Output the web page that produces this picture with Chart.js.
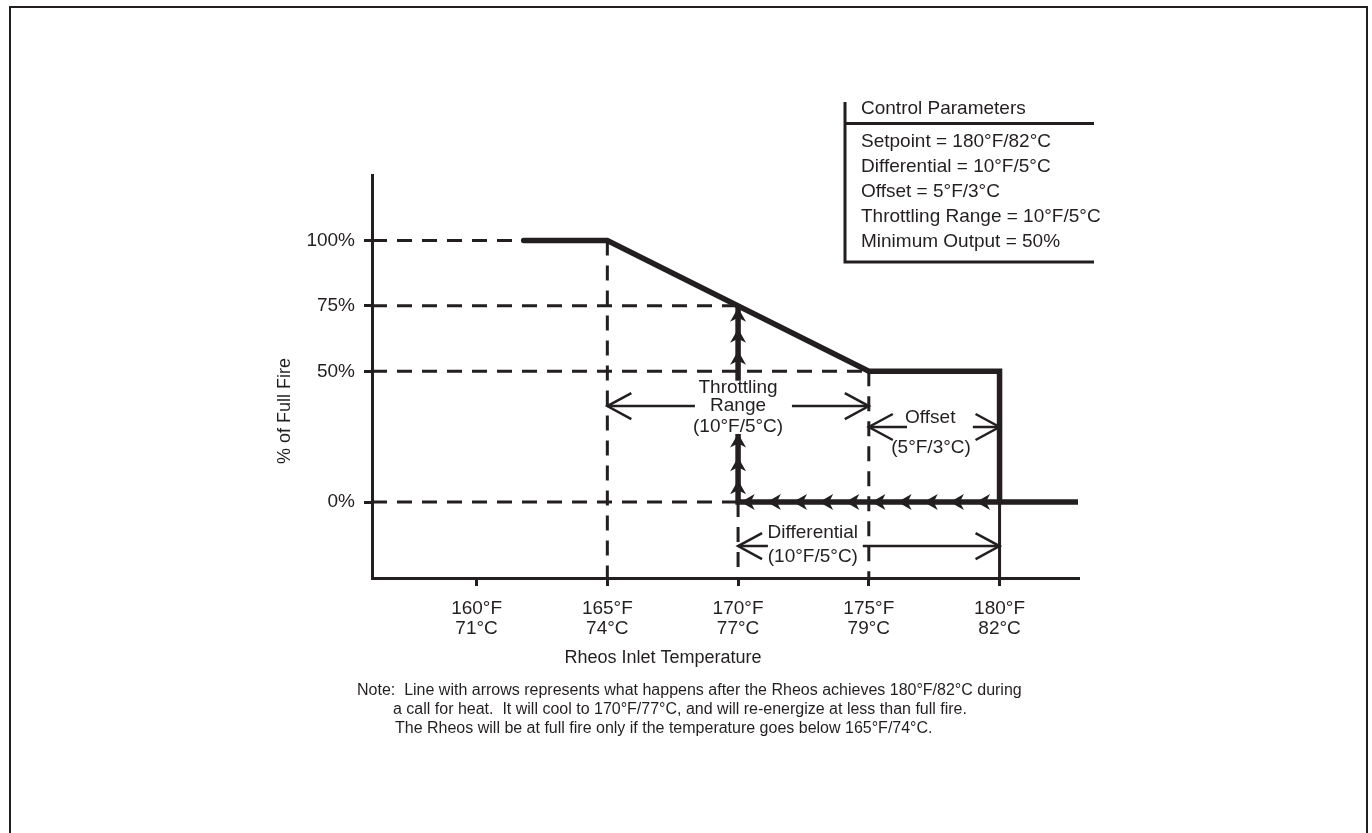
<!DOCTYPE html>
<html>
<head>
<meta charset="utf-8">
<script src="https://cdn.jsdelivr.net/npm/chart.js@4.4.1/dist/chart.umd.min.js"></script>
<style>
  html, body { margin: 0; padding: 0; background: #fff; }
  #wrap { position: relative; width: 1372px; height: 833px; }
</style>
</head>
<body>
<div id="wrap"><canvas id="chart"></canvas></div>
<script>
const INK = '#231f20';
const FONT = '"Liberation Sans", Arial, Helvetica, sans-serif';

// axis ticks
const tempTicksF = [160, 165, 170, 175, 180];
const tempTicksC = ['71°C', '74°C', '77°C', '79°C', '82°C'];
const fireTicks = [0, 50, 75, 100];

// firing rate while heating (°F -> % of full fire)
const heatTemp = [161.8, 165, 175, 180, 180];
const heatFire = [100, 100, 50, 50, 0];

// after the setpoint: cools along 0%, re-energizes at 170°F
const coolTemp = [183, 170, 170];
const coolFire = [0, 0, 26];
const riseTemp = [170, 170];
const riseFire = [46.4, 75];

// arrowhead tips along that path
const coolArrowTemp = [170.1, 171.1, 172.1, 173.1, 174.1, 175.1, 176.1, 177.1, 178.1, 179.1];
const riseArrowFire = [8.4, 17.1, 26.2, 57.8, 66.2, 74.3];

// dashed reference lines
const refLevel = [100, 75, 50, 0];
const refLevelEnd = [161.8, 170, 175, 170];
const refTemp = [165, 170, 175];
const refTempTop = [100, 0, 50];

// dimension arrows (°F span, % height, text gap) and their labels
const dims = [
  { from: 165, to: 175, at: 36.7, gap: [168.35, 172.06],
    labels: [['Throttling', 170, 43.6], ['Range', 170, 36.7], ['(10°F/5°C)', 170, 28.7]] },
  { from: 175, to: 180, at: 28.7, gap: [176.46, 178.98],
    labels: [['Offset', 177.35, 32.1], ['(5°F/3°C)', 177.38, 20.7]] },
  { from: 170, to: 180, at: -16.8, gap: [171.14, 174.77],
    labels: [['Differential', 172.86, -11.8], ['(10°F/5°C)', 172.86, -21.0]] }
];

const paramTitle = 'Control Parameters';
const paramRows = [
  'Setpoint = 180°F/82°C',
  'Differential = 10°F/5°C',
  'Offset = 5°F/3°C',
  'Throttling Range = 10°F/5°C',
  'Minimum Output = 50%'
];
const noteLines = [
  'Note:  Line with arrows represents what happens after the Rheos achieves 180°F/82°C during',
  'a call for heat.  It will cool to 170°F/77°C, and will re-energize at less than full fire.',
  'The Rheos will be at full fire only if the temperature goes below 165°F/74°C.'
];

const X_MIN = 156, X_MAX = 183, Y_MIN = -29, Y_MAX = 125;

const pts = (xs, ys) => xs.map((x, i) => ({ x, y: ys[i] }));
const base = { borderColor: INK, pointRadius: 0, fill: false, tension: 0 };

const datasets = [
  { ...base, data: pts(heatTemp, heatFire), borderWidth: 5.5, borderCapStyle: 'round', borderJoinStyle: 'miter' },
  { ...base, data: pts(coolTemp, coolFire), borderWidth: 5.5, borderJoinStyle: 'miter' },
  { ...base, data: pts(riseTemp, riseFire), borderWidth: 5.5 },
  ...refLevel.map((lv, i) => ({ ...base, data: [{ x: X_MIN, y: lv }, { x: refLevelEnd[i], y: lv }], borderWidth: 3, borderDash: [15, 10] })),
  ...refTemp.map((t, i) => ({ ...base, data: [{ x: t, y: refTempTop[i] }, { x: t, y: Y_MIN }], borderWidth: 3, borderDash: [15, 10] })),
  { ...base, data: [{ x: 180, y: 0 }, { x: 180, y: Y_MIN }], borderWidth: 3 }
];

function solidHead(ctx, px, py, angle) {
  ctx.save();
  ctx.translate(px, py);
  ctx.rotate(angle);
  ctx.beginPath();
  ctx.moveTo(0, 0);
  ctx.lineTo(-14, -8);
  ctx.lineTo(-10, 0);
  ctx.lineTo(-14, 8);
  ctx.closePath();
  ctx.fill();
  ctx.restore();
}

function openHead(ctx, px, py, dir) {
  ctx.beginPath();
  ctx.moveTo(px - dir * 24, py - 13);
  ctx.lineTo(px, py);
  ctx.lineTo(px - dir * 24, py + 13);
  ctx.stroke();
}

const drawings = {
  id: 'drawings',
  afterDraw(chart) {
    const { ctx, scales: { x, y } } = chart;
    ctx.save();
    ctx.fillStyle = INK;
    ctx.strokeStyle = INK;

    // arrowheads on the cooling / re-energize path
    coolArrowTemp.forEach(t => solidHead(ctx, x.getPixelForValue(t), y.getPixelForValue(0), Math.PI));
    riseArrowFire.forEach(f => solidHead(ctx, x.getPixelForValue(170), y.getPixelForValue(f), -Math.PI / 2));

    // dimension arrows
    ctx.lineWidth = 2.5;
    ctx.lineCap = 'butt';
    ctx.font = '19px ' + FONT;
    ctx.textAlign = 'center';
    ctx.textBaseline = 'middle';
    dims.forEach(d => {
      const yy = y.getPixelForValue(d.at);
      const x0 = x.getPixelForValue(d.from), x1 = x.getPixelForValue(d.to);
      ctx.beginPath();
      ctx.moveTo(x0, yy); ctx.lineTo(x.getPixelForValue(d.gap[0]), yy);
      ctx.moveTo(x.getPixelForValue(d.gap[1]), yy); ctx.lineTo(x1, yy);
      ctx.stroke();
      openHead(ctx, x0, yy, -1);
      openHead(ctx, x1, yy, 1);
      d.labels.forEach(([txt, tx, ty]) => ctx.fillText(txt, x.getPixelForValue(tx), y.getPixelForValue(ty)));
    });

    // axis titles
    ctx.font = '18px ' + FONT;
    ctx.fillText('Rheos Inlet Temperature', 663, 658);
    ctx.save();
    ctx.translate(285, 411);
    ctx.rotate(-Math.PI / 2);
    ctx.fillText('% of Full Fire', 0, 0);
    ctx.restore();

    // control parameters box
    ctx.lineWidth = 3;
    ctx.beginPath();
    ctx.moveTo(845, 102); ctx.lineTo(845, 263.5);
    ctx.moveTo(845, 123.5); ctx.lineTo(1094, 123.5);
    ctx.moveTo(845, 262); ctx.lineTo(1094, 262);
    ctx.stroke();
    ctx.font = '19px ' + FONT;
    ctx.textAlign = 'left';
    ctx.fillText(paramTitle, 861, 109);
    paramRows.forEach((r, i) => ctx.fillText(r, 861, 142 + i * 25));

    // note
    ctx.font = '16px ' + FONT;
    ctx.fillText(noteLines[0], 357, 691);
    ctx.fillText(noteLines[1], 393, 710);
    ctx.fillText(noteLines[2], 395, 729);

    // page frame
    ctx.lineWidth = 2;
    ctx.strokeRect(10, 7, 1357, 900);
    ctx.restore();
  }
};

Chart.defaults.font.family = FONT;
Chart.defaults.color = INK;

new Chart(document.getElementById('chart'), {
  type: 'line',
  data: { datasets },
  options: {
    responsive: true,
    maintainAspectRatio: false,
    animation: false,
    layout: { padding: { left: 272, top: 175, right: 294, bottom: 155 } },
    plugins: { legend: { display: false }, tooltip: { enabled: false } },
    scales: {
      x: {
        type: 'linear',
        min: X_MIN,
        max: X_MAX,
        afterBuildTicks: s => { s.ticks = tempTicksF.map(v => ({ value: v })); },
        afterFit: s => { s.height = 100; },
        grid: { drawOnChartArea: false, drawTicks: true, tickLength: 8, lineWidth: 3, color: INK },
        border: { display: true, width: 3, color: INK },
        ticks: {
          autoSkip: false, maxRotation: 0, padding: 13, color: INK,
          font: { size: 19, lineHeight: 1.05 },
          callback: v => [v + '°F', tempTicksC[tempTicksF.indexOf(v)]]
        }
      },
      y: {
        type: 'linear',
        min: Y_MIN,
        max: Y_MAX,
        afterBuildTicks: s => { s.ticks = fireTicks.map(v => ({ value: v })); },
        afterFit: s => { s.width = 100; },
        grid: { drawOnChartArea: false, drawTicks: true, tickLength: 8, lineWidth: 3, color: INK },
        border: { display: true, width: 3, color: INK },
        ticks: { padding: 9, color: INK, font: { size: 19 }, callback: v => v + '%' }
      }
    }
  },
  plugins: [drawings]
});
</script>
</body>
</html>
